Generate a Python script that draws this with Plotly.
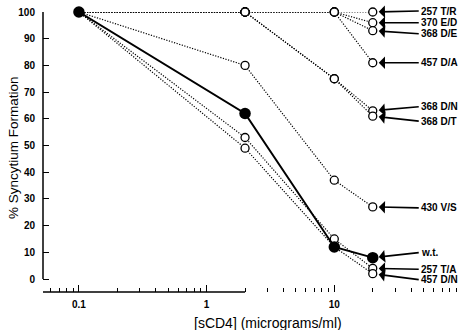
import math
import plotly.graph_objects as go

# concentrations of sCD4 (micrograms/ml)
conc = [0.1, 2, 10, 20]

# % syncytium formation per virus
wt = [100, 62, 12, 8]
t257r = [100, 100, 100, 100]
e370d = [100, 100, 100, 96]
d368e = [100, 100, 100, 93]
d457a = [100, 100, 100, 81]
d368n = [100, 100, 75, 63]
d368t = [100, 100, 75, 61]
v430s = [100, 80, 37, 27]
t257a = [100, 53, 15, 4]
d457n = [100, 49, 12, 2]

mutants = [
    ("257 T/R", t257r), ("370 E/D", e370d), ("368 D/E", d368e),
    ("457 D/A", d457a), ("368 D/N", d368n), ("368 D/T", d368t),
    ("430 V/S", v430s), ("257 T/A", t257a), ("457 D/N", d457n),
]

y_ticks = list(range(0, 101, 10))
x_major = [0.1, 1, 10, 100]
x_major_labels = ["0.1", "1", "10", "100"]
x_minor = [m * d for d in [0.01, 0.1, 1, 10] for m in range(2, 10) if 0.06 <= m * d < 100]

FONT = "Liberation Sans, Arial, sans-serif"

fig = go.Figure()
for name, vals in mutants:
    fig.add_trace(go.Scatter(
        x=conc, y=vals, mode="lines+markers", name=name,
        line=dict(color="black", width=1.2, dash="1.2px,1.5px"),
        marker=dict(symbol="circle", size=8, color="white",
                    line=dict(color="black", width=1.3)),
        cliponaxis=False, showlegend=False))
fig.add_trace(go.Scatter(
    x=conc, y=wt, mode="lines+markers", name="w.t.",
    line=dict(color="black", width=2),
    marker=dict(symbol="circle", size=11.5, color="black"),
    cliponaxis=False, showlegend=False))

# label arrows: (label, y value at last point, vertical offset of label in px)
label_specs = [
    ("257 T/R", t257r[-1], -1), ("370 E/D", e370d[-1], 0), ("368 D/E", d368e[-1], 3),
    ("457 D/A", d457a[-1], 0), ("368 D/N", d368n[-1], -4), ("368 D/T", d368t[-1], 5),
    ("430 V/S", v430s[-1], 1), ("w.t.", wt[-1], -5), ("257 T/A", t257a[-1], 1),
    ("457 D/N", d457n[-1], 6),
]
annotations = []
for text, yv, dy in label_specs:
    annotations.append(dict(
        x=math.log10(conc[-1]), y=yv, xref="x", yref="y", text="<b>%s</b>" % text,
        showarrow=True, ax=46, ay=dy, xanchor="left", yanchor="middle",
        arrowhead=1, arrowsize=1.3, arrowwidth=1.6, arrowcolor="black",
        standoff=6, borderpad=1,
        font=dict(family=FONT, size=10, color="black")))

annotations.append(dict(
    text="[sCD4] (micrograms/ml)", xref="paper", yref="paper",
    x=(268 - 43) / 419, y=(292 - 323) / 280, showarrow=False,
    xanchor="center", yanchor="middle",
    font=dict(family=FONT, size=14, color="black")))
annotations.append(dict(
    text="% Syncytium Formation", xref="paper", yref="paper",
    x=(13 - 43) / 419, y=(292 - 148) / 280, showarrow=False, textangle=-90,
    xanchor="center", yanchor="middle",
    font=dict(family=FONT, size=13.5, color="black")))

shapes = [
    dict(type="line", xref="x", yref="paper", x0=math.log10(0.06), x1=2, y0=0, y1=0,
         line=dict(color="black", width=1.5)),
    dict(type="line", xref="paper", yref="y", x0=0, x1=0, y0=0, y1=100,
         line=dict(color="black", width=1.5)),
]

fig.update_layout(
    width=464, height=330,
    margin=dict(l=43, r=2, t=12, b=38),
    paper_bgcolor="white", plot_bgcolor="white",
    font=dict(family=FONT, color="black"),
    annotations=annotations, shapes=shapes,
    xaxis=dict(type="log", range=[-1.28125, 2.0], showgrid=False, zeroline=False,
               showline=False, tickmode="array", tickvals=x_major, ticktext=x_major_labels,
               ticks="inside", ticklen=7, tickwidth=1.2, tickcolor="black",
               ticklabelstandoff=5,
               tickfont=dict(family=FONT, size=10, color="black", weight="bold"),
               minor=dict(tickmode="array", tickvals=x_minor, ticks="inside",
                          ticklen=4, tickwidth=1, tickcolor="black", showgrid=False)),
    yaxis=dict(range=[-4.87, 100], showgrid=False, zeroline=False, showline=False,
               tickmode="array", tickvals=y_ticks,
               ticks="inside", ticklen=6, tickwidth=1.2, tickcolor="black",
               ticklabelstandoff=7,
               tickfont=dict(family=FONT, size=10, color="black", weight="bold")),
)

fig.write_html("out.html")
